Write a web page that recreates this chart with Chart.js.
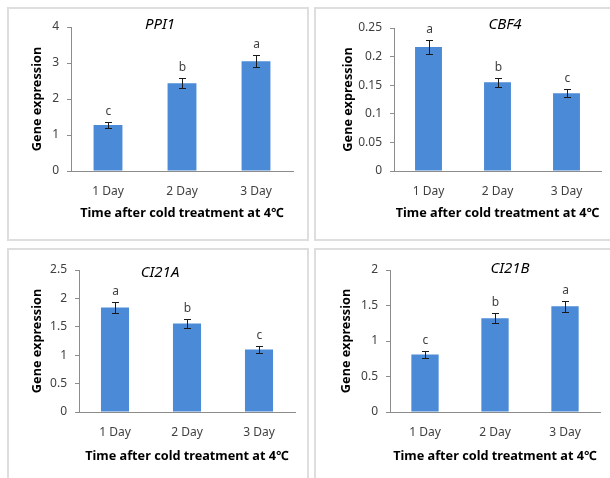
<!DOCTYPE html>
<html><head><meta charset="utf-8">
<script src="https://cdn.jsdelivr.net/npm/chart.js@4.4.1/dist/chart.umd.min.js"></script>
<style>
html,body{margin:0;padding:0;background:#fff;width:610px;height:478px;overflow:hidden;}
body{position:relative;}
.panel{position:absolute;border:2px solid #dedede;background:#fff;width:298px;height:230px;}
.panel.wide{width:300px;border-right:none;}
.panel canvas{position:absolute;left:0;top:0;}
</style></head><body>
<div class="panel" style="left:7px;top:7px"><canvas id="c1" width="298" height="230"></canvas></div>
<div class="panel wide" style="left:314px;top:7px"><canvas id="c2" width="296" height="230"></canvas></div>
<div class="panel" style="left:7px;top:248px"><canvas id="c3" width="298" height="230"></canvas></div>
<div class="panel wide" style="left:314px;top:248px"><canvas id="c4" width="296" height="230"></canvas></div>
<script>
// ---- data ----
const categories = ['1 Day', '2 Day', '3 Day'];

const ppi1Values  = [1.28, 2.44, 3.05];
const ppi1Errors  = [0.08, 0.14, 0.16];
const ppi1Letters = ['c', 'b', 'a'];

const cbf4Values  = [0.217, 0.155, 0.136];
const cbf4Errors  = [0.012, 0.008, 0.007];
const cbf4Letters = ['a', 'b', 'c'];

const ci21aValues  = [1.84, 1.56, 1.10];
const ci21aErrors  = [0.10, 0.08, 0.055];
const ci21aLetters = ['a', 'b', 'c'];

const ci21bValues  = [0.81, 1.32, 1.49];
const ci21bErrors  = [0.045, 0.07, 0.08];
const ci21bLetters = ['c', 'b', 'a'];

const geneNames = ['PPI1', 'CBF4', 'CI21A', 'CI21B'];
const yMaxima = [4, 0.25, 2.5, 2];
const yStepSizes = [1, 0.05, 0.5, 0.5];

const yTitle = 'Gene expression';
const xTitle = 'Time after cold treatment at 4\u2103';

// ---- style / layout ----
const FONT = '"Noto Sans", "DejaVu Sans", sans-serif';
Chart.defaults.font.family = FONT;
const BAR_COLOR = '#4a8ad6';
const AXIS_COLOR = '#8c8c8c';
const TEXT_COLOR = '#404040';
const AXIS_TITLE_SIZE = 12.7;
const LH = AXIS_TITLE_SIZE * 1.2;

// plot box positions inside each canvas (layout only)
const layouts = [
  {left: 62, right: 284, top: 18, bottom: 162, yTitle: 28, xTitle: 204, tx: 151, ty: 16},
  {left: 78, right: 285, top: 19, bottom: 162, yTitle: 32, xTitle: 204, tx: 189, ty: 16},
  {left: 70, right: 286, top: 20, bottom: 162, yTitle: 28, xTitle: 206, tx: 151, ty: 23},
  {left: 74, right: 284, top: 20, bottom: 162, yTitle: 30, xTitle: 206, tx: 194, ty: 19}
];

function annotations(errors, letters, title, lay) {
  return {
    id: 'annotations',
    afterDatasetsDraw(chart) {
      const ctx = chart.ctx;
      const meta = chart.getDatasetMeta(0);
      const ys = chart.scales.y;
      const vals = chart.data.datasets[0].data;
      ctx.save();
      ctx.strokeStyle = '#1a1a1a';
      ctx.lineWidth = 1;
      ctx.fillStyle = TEXT_COLOR;
      ctx.font = '12px ' + FONT;
      ctx.textAlign = 'center';
      ctx.textBaseline = 'middle';
      meta.data.forEach((bar, i) => {
        const x = Math.round(bar.x) + 0.5;
        const yt = Math.round(ys.getPixelForValue(vals[i] + errors[i])) + 0.5;
        const yb = Math.round(ys.getPixelForValue(vals[i] - errors[i])) + 0.5;
        ctx.beginPath();
        ctx.moveTo(x, yt); ctx.lineTo(x, yb);
        ctx.moveTo(x - 3.5, yt); ctx.lineTo(x + 3.5, yt);
        ctx.moveTo(x - 3.5, yb); ctx.lineTo(x + 3.5, yb);
        ctx.stroke();
        ctx.fillText(letters[i], x, yt - 11);
      });
      ctx.fillStyle = '#000';
      ctx.font = 'italic 15px ' + FONT;
      ctx.fillText(title, lay.tx, lay.ty);
      ctx.restore();
    }
  };
}

function makeChart(id, values, errors, letters, idx) {
  const lay = layouts[idx];
  const canvas = document.getElementById(id);
  const W = canvas.width, H = canvas.height;
  const padLeft = lay.yTitle - LH / 2;
  const xHeight = lay.xTitle + LH / 2 - lay.bottom;
  new Chart(canvas, {
    type: 'bar',
    data: {
      labels: categories,
      datasets: [{
        data: values,
        backgroundColor: BAR_COLOR,
        borderWidth: 0,
        barPercentage: 0.39,
        categoryPercentage: 1.0
      }]
    },
    options: {
      responsive: false,
      animation: false,
      devicePixelRatio: 1,
      layout: {padding: {left: padLeft, right: W - lay.right, top: lay.top, bottom: H - lay.bottom - xHeight}},
      plugins: {legend: {display: false}, tooltip: {enabled: false}, title: {display: false}},
      scales: {
        x: {
          grid: {display: false, drawTicks: false},
          border: {display: true, color: AXIS_COLOR, width: 1},
          ticks: {color: TEXT_COLOR, font: {size: 12}, padding: 13},
          title: {display: true, text: xTitle, color: '#000', font: {size: AXIS_TITLE_SIZE, weight: 'bold'}, padding: 0},
          afterFit(s) { s.height = xHeight; }
        },
        y: {
          min: 0, max: yMaxima[idx],
          ticks: {
            stepSize: yStepSizes[idx], color: TEXT_COLOR, font: {size: 12}, padding: 8,
            callback: (v) => String(parseFloat(Number(v).toFixed(3)))
          },
          grid: {drawOnChartArea: false, drawTicks: true, tickLength: 4, color: AXIS_COLOR},
          border: {display: true, color: AXIS_COLOR, width: 1},
          title: {display: true, text: yTitle, color: '#000', font: {size: AXIS_TITLE_SIZE, weight: 'bold'}, padding: 0},
          afterFit(s) { s.width = lay.left - padLeft; }
        }
      }
    },
    plugins: [annotations(errors, letters, geneNames[idx], lay)]
  });
}

makeChart('c1', ppi1Values, ppi1Errors, ppi1Letters, 0);
makeChart('c2', cbf4Values, cbf4Errors, cbf4Letters, 1);
makeChart('c3', ci21aValues, ci21aErrors, ci21aLetters, 2);
makeChart('c4', ci21bValues, ci21bErrors, ci21bLetters, 3);
</script>
</body></html>
